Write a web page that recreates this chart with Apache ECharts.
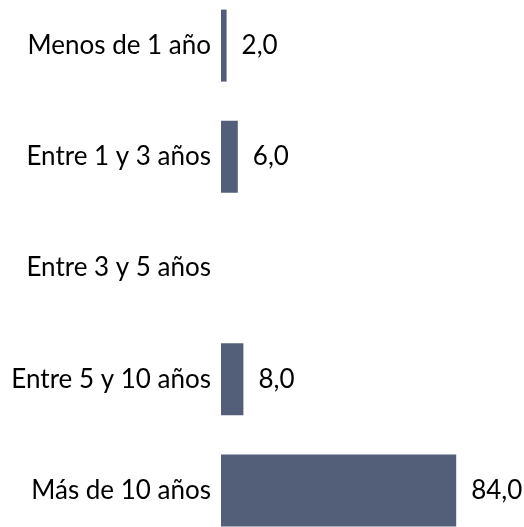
<!DOCTYPE html>
<html>
<head>
<meta charset="utf-8">
<script src="https://cdn.jsdelivr.net/npm/echarts@6/dist/echarts.min.js"></script>
<style>
  html, body { margin: 0; padding: 0; background: #fff; overflow: hidden; }
  /* el área de trazado sobresale un poco por arriba y por abajo */
  #main { position: absolute; left: 0; top: -10px; width: 524px; height: 556px; }
</style>
</head>
<body>
<div id="main"></div>
<script>
// categorías y valores (%)
var categorias = ['Menos de 1 año', 'Entre 1 y 3 años', 'Entre 3 y 5 años', 'Entre 5 y 10 años', 'Más de 10 años'];
var valores = [2.0, 6.0, null, 8.0, 84.0];

var chart = echarts.init(document.getElementById('main'));
var fuente = 'Lato';

chart.setOption({
  animation: false,
  grid: {
    left: 221,
    right: 23,
    top: 0,
    bottom: 0
  },
  xAxis: {
    type: 'value',
    min: 0,
    max: 100,
    show: false
  },
  yAxis: {
    type: 'category',
    inverse: true,
    data: categorias,
    axisLine: { show: false },
    axisTick: { show: false },
    axisLabel: {
      margin: 10,
      color: '#000',
      fontFamily: fuente,
      fontSize: 26
    }
  },
  series: [{
    type: 'bar',
    data: valores,
    barWidth: 72,
    itemStyle: { color: '#535e78' },
    label: {
      show: true,
      position: 'right',
      distance: 15,
      color: '#000',
      fontFamily: fuente,
      fontSize: 26,
      formatter: function (p) {
        return p.value.toFixed(1).replace('.', ',');
      }
    }
  }]
});
</script>
</body>
</html>
